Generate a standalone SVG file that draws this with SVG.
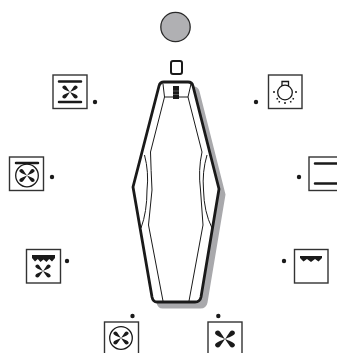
<svg xmlns="http://www.w3.org/2000/svg" width="337" height="353" viewBox="0 0 337 353">
<style>
.box{fill:#fff;stroke:#333;stroke-width:1.400}
.dot{fill:#1a1a1a}
.bar{stroke:#1a1a1a;stroke-width:2.500;fill:none;stroke-linecap:round}
.thin{fill:none;stroke:#1a1a1a;stroke-width:1}
.ring{fill:none;stroke:#1a1a1a;stroke-width:1.300}
</style>
<defs>
<g id="fan" fill="#1a1a1a">
<path id="p" d="M0 0C1.200-1.600 2.400-3.600 3.800-5.600C5.200-7.400 8-6.200 7.600-4.200C7.200-2.800 2.600-1 0 0Z"/>
<use href="#p" transform="scale(-1 1)"/><use href="#p" transform="scale(1 -1)"/><use href="#p" transform="scale(-1 -1)"/>
</g>
<path id="scallop3" fill="#1a1a1a" d="M-11-2.500H11V-0.500L7.500 3L4 0.500L0 3.500L-4 0.500L-7.500 3L-11-0.500Z"/>
<path id="scallop4" fill="#1a1a1a" d="M-11.500-3.500H11.500V-0.500L8.500 3L5.700 0.500L3 3.500L0 1L-3 3.500L-5.700 0.500L-8.500 3L-11.500-0.500Z"/>
<path id="outline" d="M164 82H188Q192 82 193 86L219 189L201 297Q200 302 195 302H157Q153 302 152 297L133 187L159 86Q160 82 164 82Z"/>
</defs>
<g id="indicator"><circle cx="175.500" cy="27" r="14.700" fill="#b0b0b3" stroke="#2a2a2a" stroke-width="1.300"/></g>
<g id="marker"><rect x="171" y="61" width="11" height="13" rx="2" fill="#fff" stroke="#1a1a1a" stroke-width="2"/></g>
<g id="knob">
<use href="#outline" transform="translate(5.500 5.500)" fill="#a9a9ac" stroke="#a9a9ac" stroke-width="2"/>
<use href="#outline" fill="#fff" stroke="#1a1a1a" stroke-width="2.800" stroke-linejoin="round"/>
<path class="thin" d="M163 84L164.500 97H188L191 84M164.500 97L150.500 152Q151 170 152 190L148.500 225L163 301M188 97L202 152Q198 170 200.500 190L203 225L189 301"/>
<path class="thin" stroke-width="1.300" d="M144.500 155Q149 172 147 190Q147 212 141 228M207 155Q202 172 203.500 190Q204 212 212 228"/>
<rect x="173" y="86" width="6" height="13" fill="#1a1a1a"/>
<path d="M173 91H179M173 94.500H179" stroke="#777" stroke-width="0.700"/>
</g>
<g id="connectors">
<circle class="dot" cx="95" cy="102" r="2.200"/>
<circle class="dot" cx="52" cy="177" r="2.200"/>
<circle class="dot" cx="67" cy="261" r="2.200"/>
<circle class="dot" cx="132.500" cy="316" r="2.200"/>
<circle class="dot" cx="218.300" cy="316" r="2.200"/>
<circle class="dot" cx="284" cy="261" r="2.200"/>
<circle class="dot" cx="256" cy="102" r="2.200"/>
<circle class="dot" cx="299" cy="177" r="2.200"/>
</g>
<g id="n1"><rect class="box" x="53" y="75" width="34" height="33.500"/>
<path class="bar" d="M59 81.500H81M59 102H81"/><use href="#fan" transform="translate(70 92)"/></g>
<g id="n2"><rect class="box" x="9.500" y="157" width="34" height="33.500"/>
<path class="bar" d="M16 163H38"/><circle class="ring" cx="27" cy="175.500" r="11.300"/><use href="#fan" transform="translate(27 175.500)"/></g>
<g id="n3"><rect class="box" x="26.500" y="249.500" width="34" height="33.500"/>
<use href="#scallop4" transform="translate(43.500 258.500)"/><use href="#fan" transform="translate(43 271)"/></g>
<g id="n4"><rect class="box" x="104.500" y="322" width="34" height="34"/>
<circle class="ring" cx="121" cy="338" r="11.300"/><use href="#fan" transform="translate(121 338)"/></g>
<g id="n5"><rect class="box" x="208" y="322" width="34" height="34"/>
<use href="#fan" transform="translate(225 339) scale(1.300)"/></g>
<g id="n6"><rect class="box" x="294.500" y="249.500" width="33.500" height="33.500"/>
<use href="#scallop3" transform="translate(311 258.500)"/></g>
<g id="n7"><rect class="box" x="268.500" y="75" width="33.500" height="33.500"/>
<circle class="ring" cx="285" cy="92.500" r="7.300"/>
<path class="ring" fill="#fff" d="M282 86V81.500H288.500V86"/>
<path d="M273 92H275M295 92H297M276.500 99L278 98.500M279 102.500L279.500 101M285 104V102M291 102.500L290.500 101M294 99L292.500 98.500" stroke="#1a1a1a" stroke-width="1.500" fill="none"/></g>
<g id="n8"><rect class="box" x="309" y="157" width="34" height="33.500"/>
<path class="bar" stroke-linecap="butt" d="M315 163.500H337M315 183.500H337"/></g>
</svg>
